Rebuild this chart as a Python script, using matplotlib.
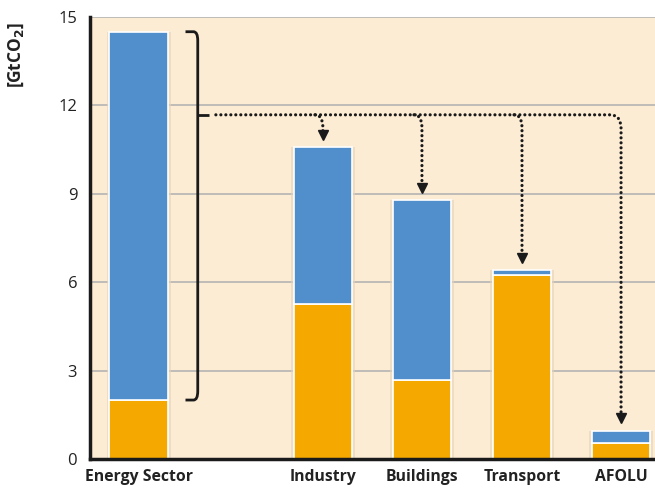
import matplotlib.pyplot as plt
from matplotlib.path import Path
from matplotlib.patches import PathPatch

sectors = ['Energy Sector', 'Industry', 'Buildings', 'Transport', 'AFOLU']
direct = [2.0, 5.25, 2.68, 6.24, 0.54]
indirect = [12.5, 5.33, 6.1, 0.16, 0.41]
yticks = [0, 3, 6, 9, 12, 15]

positions = [0, 1.85, 2.845, 3.85, 4.845]
width = 0.59
blue = '#508FCB'
orange = '#F5A800'
bg = '#FDECD4'

plt.rcParams['font.family'] = ['Open Sans', 'DejaVu Sans']

fig = plt.figure(figsize=(6.55, 4.94), dpi=100)
ax = fig.add_axes([0.137, 0.0709, 0.863, 0.8947])
ax.set_facecolor(bg)

totals = [d + i for d, i in zip(direct, indirect)]

# soft shadow behind bars
ax.bar(positions, totals, width=width + 0.05, color='#e6d3b8', alpha=0.6,
       zorder=1.5, linewidth=0)
ax.bar(positions, direct, width=width, color=orange, edgecolor='white',
       linewidth=1.2, zorder=2)
ax.bar(positions, indirect, bottom=direct, width=width, color=blue,
       edgecolor='white', linewidth=1.2, zorder=2)

ax.set_xlim(-0.492, 5.186)
ax.set_ylim(0, 15)
ax.set_yticks(yticks)
ax.set_yticklabels([str(t) for t in yticks], fontsize=12, color='#222222')
ax.set_xticks(positions)
ax.set_xticklabels(sectors, fontsize=11.3, fontweight='bold', color='#222222')
ax.tick_params(axis='both', length=0)
ax.tick_params(axis='y', pad=9)
ax.tick_params(axis='x', pad=7)
ax.yaxis.grid(True, color='#b4b4b4', linewidth=1.2, zorder=0)
ax.set_axisbelow(True)
for s in ['top', 'right']:
    ax.spines[s].set_visible(False)
for s in ['left', 'bottom']:
    ax.spines[s].set_linewidth(2.5)
    ax.spines[s].set_color('#1a1a1a')
    ax.spines[s].set_zorder(5)

ax.set_ylabel('[GtCO$_\\mathbf{2}$]', fontsize=12.5, fontweight='bold',
              color='#222222')
ax.yaxis.set_label_coords(-0.112, 0.915)

# bracket around energy sector indirect part
bx = 0.593
top_e = totals[0]
bot_e = direct[0]
verts = [(0.47, top_e), (0.55, top_e), (bx, top_e), (bx, top_e - 0.3),
         (bx, bot_e + 0.3), (bx, bot_e), (0.55, bot_e), (0.47, bot_e)]
codes = [Path.MOVETO, Path.LINETO, Path.CURVE3, Path.CURVE3,
         Path.LINETO, Path.CURVE3, Path.CURVE3, Path.LINETO]
ax.add_patch(PathPatch(Path(verts, codes), fill=False, lw=2, color='#1a1a1a',
                       zorder=4))

y_line = 11.68
ax.plot([bx, 0.705], [y_line, y_line], color='#1a1a1a', lw=2, zorder=4,
        solid_capstyle='butt')

dots = dict(fill=False, lw=2.3, edgecolor='#1a1a1a', linestyle=(0, (0.01, 1.55)),
            capstyle='round', zorder=4)

# main dotted line ending in the corner above AFOLU
xa = positions[4]
tip_a = totals[4] + 0.55
verts = [(0.775, y_line), (xa - 0.11, y_line), (xa, y_line), (xa, y_line - 0.45),
         (xa, tip_a)]
codes = [Path.MOVETO, Path.LINETO, Path.CURVE3, Path.CURVE3, Path.LINETO]
ax.add_patch(PathPatch(Path(verts, codes), **dots))
ax.plot([xa], [tip_a - 0.12], marker='v', ms=7.5, color='#1a1a1a', zorder=4)

for xc, t in zip(positions[1:4], totals[1:4]):
    tip = t + 0.55
    verts = [(xc - 0.08, y_line), (xc, y_line), (xc, y_line - 0.45), (xc, tip)]
    codes = [Path.MOVETO, Path.CURVE3, Path.CURVE3, Path.LINETO]
    ax.add_patch(PathPatch(Path(verts, codes), **dots))
    ax.plot([xc], [tip - 0.12], marker='v', ms=7.5, color='#1a1a1a', zorder=4)

fig.savefig('out.png', dpi=100)
